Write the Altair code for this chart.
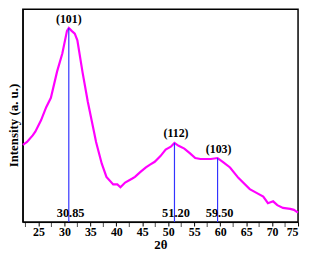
import altair as alt
import pandas as pd

two_theta = [22.0, 22.8, 23.9, 24.4, 25.5, 26.5, 27.4, 28.6, 29.6, 30.5, 30.85, 31.4, 32.0, 32.5,
             33.5, 34.5, 35.7, 36.1, 37.2, 38.1, 39.4, 40.2, 40.8, 41.7, 43.0, 43.6, 44.6, 45.7,
             46.5, 47.4, 48.5, 49.5, 50.5, 51.2, 52.0, 53.1, 54.2, 55.2, 56.2, 57.1, 58.2, 59.5,
             60.5, 61.9, 63.5, 65.7, 67.0, 68.3, 69.2, 70.2, 71.0, 72.1, 73.5, 74.2, 75.0]
intensity = [82, 85, 92, 96, 108, 122, 132, 160, 179, 203, 206, 203, 200, 193,
             159, 128, 96, 85, 62, 48, 40, 40, 37, 42, 46, 48, 53, 58,
             61, 64, 70, 77, 80, 84, 81, 78, 73, 68, 67, 67, 67, 68,
             64, 58, 47, 35, 31, 27, 20, 22, 18, 15, 14, 13, 10]

peak_pos = [30.85, 51.20, 59.50]
peak_int = [206, 84, 68]
hkl = ["(101)", "(112)", "(103)"]
hkl_x = [30.85, 51.5, 59.7]
hkl_y = [216, 95, 78]
pos_text = ["30.85", "51.20", "59.50"]
pos_text_x = [31.2, 51.5, 59.9]
pos_text_y = [10, 10, 10]
tick_values = [25, 30, 35, 40, 45, 50, 55, 60, 65, 70, 75]
minor_values = [22.5, 27.5, 32.5, 37.5, 42.5, 47.5, 52.5, 57.5, 62.5, 67.5, 72.5]

curve = pd.DataFrame({"x": two_theta, "y": intensity})
peaks = pd.DataFrame({"x": peak_pos, "y": peak_int, "y0": [0, 0, 0]})
hkl_df = pd.DataFrame({"x": hkl_x, "y": hkl_y, "t": hkl})
pos_df = pd.DataFrame({"x": pos_text_x, "y": pos_text_y, "t": pos_text})
minor_df = pd.DataFrame({"x": minor_values, "y": [0] * len(minor_values)})

FONT = "Liberation Serif"
W, H = 278, 215
xs = alt.Scale(domain=[22, 75], nice=False, zero=False)
ys = alt.Scale(domain=[0, 226], nice=False)

xax = alt.Axis(values=tick_values, title="2θ", labelFont=FONT, titleFont=FONT,
               labelFontSize=12, titleFontSize=13, labelFontWeight="bold",
               titleFontWeight="bold", labelColor="black", titleColor="black",
               tickColor="black", domainColor="black", tickSize=4, grid=False,
               labelPadding=1, titlePadding=1, labelFlush=True, labelOverlap=False)
yax = alt.Axis(labels=False, ticks=False, title="Intensity (a. u.)", titleFont=FONT,
               titleFontSize=13, titleFontWeight="bold", titleColor="black",
               domainColor="black", grid=False, titlePadding=2, titleY=117)


def X(f):
    return alt.X(f, type="quantitative", scale=xs, axis=xax)


def Y(f):
    return alt.Y(f, type="quantitative", scale=ys, axis=yax)


line = alt.Chart(curve).mark_line(color="#FF00FF", strokeWidth=2.2).encode(
    x=X("x"), y=Y("y"))

rules = alt.Chart(peaks).mark_rule(color="#3333FF", strokeWidth=1.2).encode(
    x=X("x"), y=Y("y0"), y2="y:Q")

hkl_text = alt.Chart(hkl_df).mark_text(font=FONT, fontSize=12, fontWeight="bold",
                                       color="black", baseline="middle").encode(
    x=X("x"), y=Y("y"), text="t:N")

pos_label = alt.Chart(pos_df).mark_text(font=FONT, fontSize=12.5, fontWeight="bold",
                                        color="black", baseline="middle").encode(
    x=X("x"), y=Y("y"), text="t:N")

minor = alt.Chart(minor_df).mark_tick(color="black", thickness=1, size=5,
                                      orient="vertical", yOffset=2.5).encode(
    x=X("x"), y=Y("y"))

chart = alt.layer(line, rules, hkl_text, pos_label, minor).properties(
    width=W, height=H, padding=0
).configure_view(stroke="black", strokeWidth=1.5)

chart.save("out.html", embed_options={"renderer": "svg", "actions": False})
